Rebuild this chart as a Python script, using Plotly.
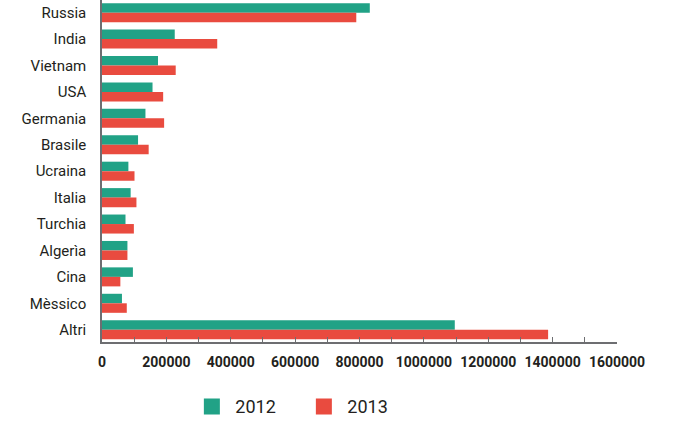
import plotly.graph_objects as go

countries = ["Russia", "India", "Vietnam", "USA", "Germania", "Brasile", "Ucraina",
             "Italia", "Turchia", "Algerìa", "Cina", "Mèssico", "Altri"]
v2012 = [832000, 226000, 174000, 157000, 135000, 112000, 82000,
         89000, 73000, 79000, 96000, 62000, 1096000]
v2013 = [790000, 358000, 229000, 190000, 193000, 145000, 101000,
         107000, 99000, 79000, 57000, 77000, 1386000]
years = ["2012", "2013"]
colors = ["#21a286", "#e94b3f"]

FONT = "Roboto, sans-serif"

fig = go.Figure()
for name, vals, col in zip(years, [v2012, v2013], colors):
    fig.add_trace(go.Bar(y=countries, x=vals, name=name, orientation="h",
                         marker=dict(color=col, line=dict(width=0)),
                         showlegend=False, cliponaxis=False))
    fig.add_trace(go.Scatter(x=[None], y=[None], mode="markers", name=name,
                             marker=dict(symbol="square", size=16, color=col)))

fig.update_layout(
    width=675, height=421,
    margin=dict(l=102, r=58, t=0, b=79),
    plot_bgcolor="white", paper_bgcolor="white",
    barmode="group", bargap=0.28, bargroupgap=0,
    font=dict(family=FONT, color="#231f20", size=15),
    legend=dict(orientation="h", x=0.1677, xanchor="left",
                yref="container", y=0.034, yanchor="middle",
                font=dict(size=18, family=FONT), entrywidth=60, itemwidth=37),
    xaxis=dict(range=[0, 1600000], dtick=200000, tick0=0, showgrid=False,
               showline=True, linecolor="#6d6e71", linewidth=1.5,
               ticks="inside", ticklen=5, tickcolor="#6d6e71",
               tickformat="d", zeroline=False, tickangle=0, automargin=False,
               ticklabelstandoff=6,
               tickfont=dict(size=14, family=FONT, weight="bold", color="#231f20"),
               minor=dict(dtick=100000, tick0=0, ticks="inside", ticklen=5,
                          tickcolor="#6d6e71", showgrid=False)),
    yaxis=dict(range=[12.465, -0.48], showgrid=False, showline=True, automargin=False,
               linecolor="#6d6e71", linewidth=1.5, ticks="", ticklabelstandoff=11,
               tickfont=dict(size=15, family=FONT, color="#231f20")),
)
fig.write_html("out.html", config={"displayModeBar": False},
               post_script="document.body.style.margin='0px';")
